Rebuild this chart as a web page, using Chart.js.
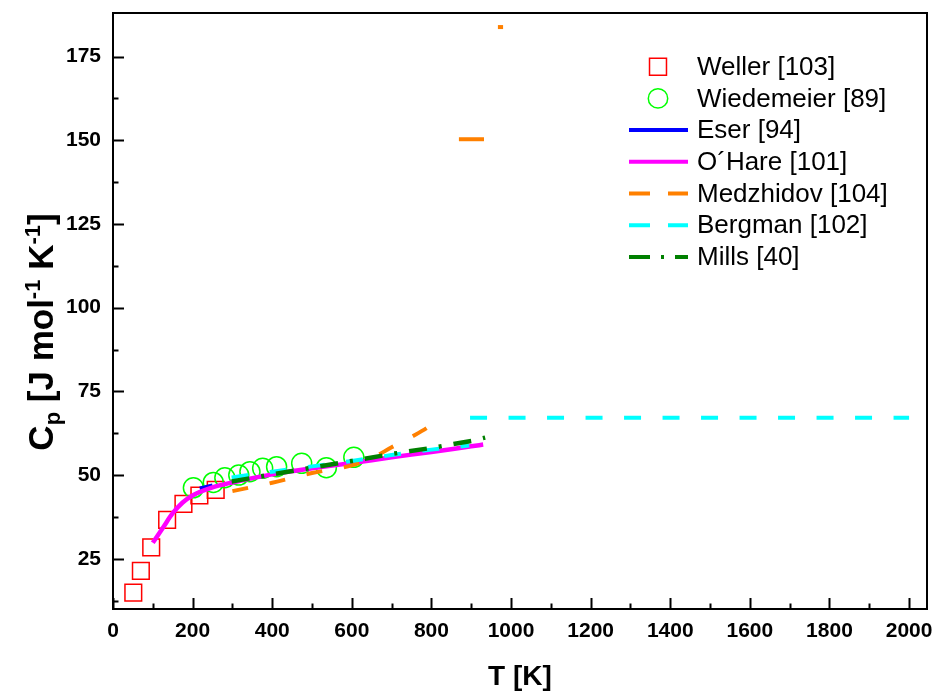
<!DOCTYPE html>
<html>
<head>
<meta charset="utf-8">
<script src="https://cdn.jsdelivr.net/npm/chart.js@4.4.0/dist/chart.umd.min.js"></script>
<style>
  html, body { margin: 0; padding: 0; background: #fff; overflow: hidden; }
  #cpChart { display: block; }
</style>
</head>
<body>
<canvas id="cpChart" width="934" height="691"></canvas>
<script>
// heat capacity data, T in K, Cp in J/(mol K)
const wellerT = [51, 70, 96, 136, 177, 217, 258];
const wellerCp = [14.9, 21.4, 28.4, 36.6, 41.4, 43.9, 45.6];

const wiedemeierT = [202, 252, 281, 316, 344, 376, 411, 474, 536, 605];
const wiedemeierCp = [46.2, 47.8, 49.2, 50.0, 51.0, 52.0, 52.5, 53.5, 52.2, 55.3];

const eserT = [218, 250];
const eserCp = [46.0, 46.9];

const ohareT = [100, 125, 150, 175, 200, 250, 300, 400, 500, 600, 700, 800, 900, 930];
const ohareCp = [29.8, 34.2, 38.6, 41.8, 43.9, 46.3, 47.8, 50.2, 52.0, 53.6, 55.3, 56.9, 58.6, 59.1];

// null breaks the line into pieces
const medzhidovT = [300, 400, 500, 600, 650, 700, 750, 800, 826, 850, 869, 932, 950, 967, 980];
const medzhidovCp = [45.2, 47.7, 50.6, 52.9, 55.0, 58.3, 61.4, 65.0, 67.6, null, 150.3, 150.3, null, 183.8, 183.8];

const bergmanT = [298, 400, 500, 600, 700, 800, 895, 896, 897, 2000];
const bergmanCp = [49.3, 51.0, 52.6, 54.2, 56.0, 57.6, 58.8, null, 67.1, 67.1];

const millsT = [298, 400, 500, 600, 700, 800, 900, 935];
const millsCp = [48.1, 50.2, 52.2, 54.2, 56.3, 58.1, 60.2, 61.2];

const xTickLabels = [0, 200, 400, 600, 800, 1000, 1200, 1400, 1600, 1800, 2000];
const yTickLabels = [25, 50, 75, 100, 125, 150, 175];

const toPoints = (t, cp) => t.map((x, i) => ({ x: x, y: cp[i] }));

const FONT = "'Liberation Sans', Arial, sans-serif";

// frame, inward ticks, y title and legend
const framePlugin = {
  id: "frame_ticks_legend",
  afterDraw: (chart) => {
    const { ctx, chartArea: { left, right, top, bottom }, scales: { x, y } } = chart;
    ctx.save();
    ctx.strokeStyle = "#000";
    ctx.lineWidth = 2;
    ctx.strokeRect(left, top, right - left, bottom - top);

    ctx.beginPath();
    xTickLabels.forEach((v, i) => {
      const px = Math.round(x.getPixelForValue(v)) + 0.5;
      ctx.moveTo(px, bottom);
      ctx.lineTo(px, bottom - 11);
      if (i < xTickLabels.length - 1) {
        const mx = Math.round(x.getPixelForValue((v + xTickLabels[i + 1]) / 2)) + 0.5;
        ctx.moveTo(mx, bottom);
        ctx.lineTo(mx, bottom - 5.5);
      }
    });
    yTickLabels.forEach((v) => {
      const py = Math.round(y.getPixelForValue(v)) + 0.5;
      ctx.moveTo(left, py);
      ctx.lineTo(left + 11, py);
      const my = Math.round(y.getPixelForValue(v - 12.5)) + 0.5;
      ctx.moveTo(left, my);
      ctx.lineTo(left + 5.5, my);
    });
    ctx.stroke();

    // y axis title with sub/superscripts
    ctx.save();
    ctx.translate(41, 332);
    ctx.rotate(-Math.PI / 2);
    ctx.fillStyle = "#000";
    ctx.textBaseline = "alphabetic";
    const parts = [
      ["C", 35, 0], ["p", 22, 7], [" [J mol", 35, 0], ["-1", 22, -13],
      [" K", 35, 0], ["-1", 22, -13], ["]", 35, 0],
    ];
    let total = 0;
    parts.forEach((p) => {
      ctx.font = "bold " + p[1] + "px " + FONT;
      total += ctx.measureText(p[0]).width;
    });
    let cx = -total / 2;
    parts.forEach((p) => {
      ctx.font = "bold " + p[1] + "px " + FONT;
      ctx.fillText(p[0], cx, 12 + p[2]);
      cx += ctx.measureText(p[0]).width;
    });
    ctx.restore();

    // legend
    ctx.font = "26px " + FONT;
    ctx.textBaseline = "middle";
    ctx.fillStyle = "#000";
    chart.data.datasets.forEach((ds, i) => {
      const ry = 66.7 + i * 31.7;
      ctx.save();
      ctx.strokeStyle = ds.borderColor;
      if (ds.showLine) {
        ctx.lineWidth = 4;
        ctx.setLineDash(ds.legendDash || []);
        ctx.beginPath();
        ctx.moveTo(629, ry);
        ctx.lineTo(688, ry);
        ctx.stroke();
      } else {
        ctx.lineWidth = ds.borderWidth;
        ctx.fillStyle = "rgba(0,0,0,0)";
        Chart.helpers.drawPoint(ctx, {
          pointStyle: ds.pointStyle,
          radius: ds.pointStyle === "rect" ? 12 : 9.7,
          rotation: 0,
          borderWidth: ds.borderWidth,
        }, 658, ry);
      }
      ctx.restore();
      ctx.fillText(ds.label, 697, ry + 1);
    });
    ctx.restore();
  },
};

const cpData = {
  datasets: [
    {
      label: "Weller [103]",
      data: toPoints(wellerT, wellerCp),
      pointStyle: "rect",
      pointRadius: 11.8,
      borderColor: "#ff0000",
      backgroundColor: "rgba(0,0,0,0)",
      borderWidth: 1.5,
      showLine: false,
      order: 7,
    },
    {
      label: "Wiedemeier [89]",
      data: toPoints(wiedemeierT, wiedemeierCp),
      pointStyle: "circle",
      pointRadius: 10,
      borderColor: "#00ff00",
      backgroundColor: "rgba(0,0,0,0)",
      borderWidth: 1.5,
      showLine: false,
      order: 6,
    },
    {
      label: "Eser [94]",
      data: toPoints(eserT, eserCp),
      borderColor: "#0000ff",
      borderWidth: 4,
      pointRadius: 0,
      showLine: true,
      order: 5,
    },
    {
      label: "O´Hare [101]",
      data: toPoints(ohareT, ohareCp),
      borderColor: "#ff00ff",
      borderWidth: 4.5,
      pointRadius: 0,
      showLine: true,
      cubicInterpolationMode: "monotone",
      order: 4,
    },
    {
      label: "Medzhidov [104]",
      data: toPoints(medzhidovT, medzhidovCp),
      borderColor: "#ff8000",
      borderWidth: 4,
      borderDash: [16, 22],
      legendDash: [21, 18],
      pointRadius: 0,
      showLine: true,
      cubicInterpolationMode: "monotone",
      segment: {
        borderDash: (c) => (c.p0.parsed.y > 100 ? [] : undefined),
      },
      order: 3,
    },
    {
      label: "Bergman [102]",
      data: toPoints(bergmanT, bergmanCp),
      borderColor: "#00ffff",
      borderWidth: 4,
      borderDash: [17, 21.5],
      legendDash: [21, 18],
      pointRadius: 0,
      showLine: true,
      order: 2,
    },
    {
      label: "Mills [40]",
      data: toPoints(millsT, millsCp),
      borderColor: "#008000",
      borderWidth: 4.5,
      borderDash: [18, 12, 3, 12],
      legendDash: [21, 11, 3, 11],
      pointRadius: 0,
      showLine: true,
      order: 1,
    },
  ],
};

const tickFont = { family: FONT, size: 21, weight: "bold" };

// drop the extra room chart.js keeps for edge labels
const noEdgePadding = (axis) => {
  axis.paddingLeft = 0;
  axis.paddingRight = 0;
  axis.paddingTop = 0;
  axis.paddingBottom = 0;
};

const cpConfig = {
  type: "scatter",
  data: cpData,
  plugins: [framePlugin],
  options: {
    responsive: false,
    animation: false,
    events: [],
    layout: { autoPadding: false, padding: { top: 13, right: 7, left: 0, bottom: 0 } },
    plugins: {
      legend: { display: false },
      tooltip: { enabled: false },
    },
    scales: {
      x: {
        type: "linear",
        min: 0,
        max: 2045,
        grid: { display: false, drawTicks: false },
        border: { display: false },
        ticks: { font: tickFont, color: "#000", padding: 10, maxRotation: 0, callback: (v) => String(v) },
        afterBuildTicks: (axis) => {
          axis.ticks = xTickLabels.map((v) => ({ value: v }));
        },
        afterFit: (axis) => {
          axis.height = 82;
          noEdgePadding(axis);
        },
        title: {
          display: true,
          text: "T [K]",
          color: "#000",
          font: { family: FONT, size: 28, weight: "bold", lineHeight: 1.0 },
          padding: 0,
        },
      },
      y: {
        type: "linear",
        min: 10,
        max: 188,
        grid: { display: false, drawTicks: false },
        border: { display: false },
        ticks: { font: tickFont, color: "#000", padding: 12, callback: (v) => String(v) },
        afterBuildTicks: (axis) => {
          axis.ticks = yTickLabels.map((v) => ({ value: v }));
        },
        afterFit: (axis) => {
          axis.width = 113;
          noEdgePadding(axis);
        },
      },
    },
  },
};

const cpChart = new Chart(document.getElementById("cpChart"), cpConfig);
</script>
</body>
</html>
